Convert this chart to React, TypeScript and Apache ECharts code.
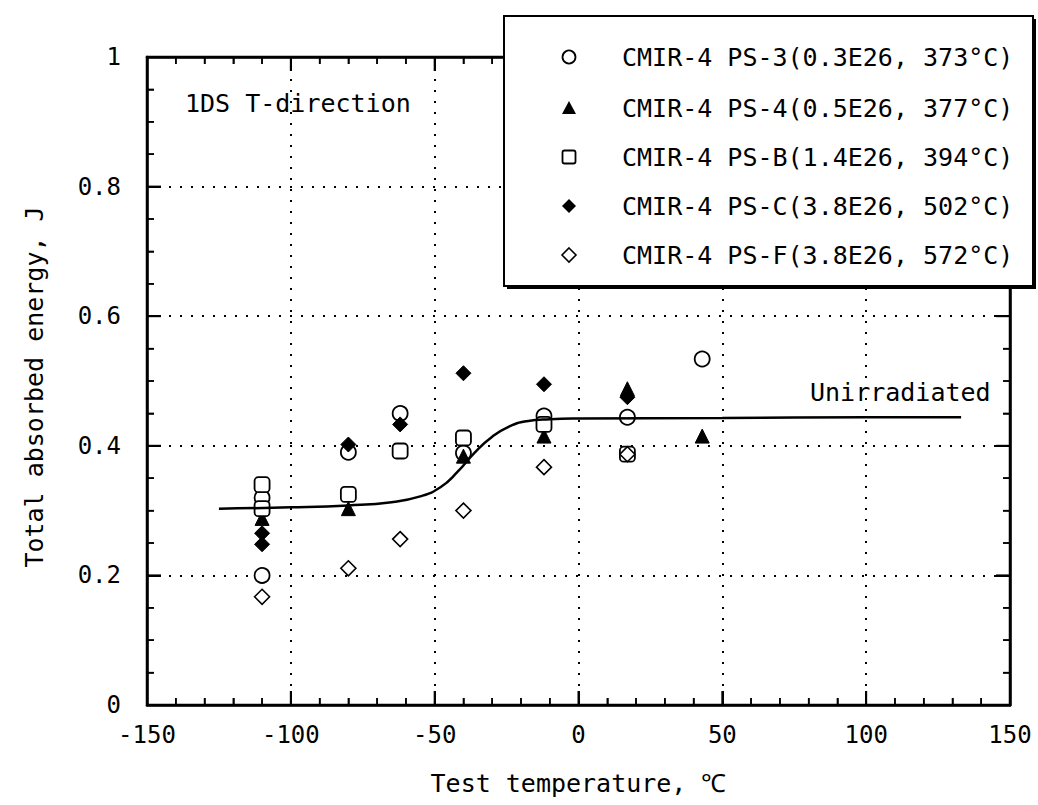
import React, { useEffect, useRef } from "react";
import * as echarts from "echarts";

// ---- data ----
const ps3: [number, number][] = [
  [-110, 0.32], [-110, 0.2], [-80, 0.39], [-62, 0.45], [-40, 0.389], [-12, 0.446], [17, 0.444], [43, 0.534],
];
const ps4: [number, number][] = [
  [-110, 0.288], [-80, 0.303], [-40, 0.384], [-12, 0.415], [17, 0.488], [43, 0.415],
];
const psB: [number, number][] = [
  [-110, 0.34], [-110, 0.303], [-80, 0.325], [-62, 0.392], [-40, 0.412], [-12, 0.433], [17, 0.387],
];
const psC: [number, number][] = [
  [-110, 0.265], [-110, 0.248], [-80, 0.402], [-62, 0.433], [-40, 0.512], [-12, 0.495], [17, 0.475],
];
const psF: [number, number][] = [
  [-110, 0.167], [-80, 0.211], [-62, 0.256], [-40, 0.3], [-12, 0.367], [17, 0.387],
];
const unirradiated: [number, number][] = [
  [-125, 0.303], [-100, 0.305], [-80, 0.308], [-65, 0.313], [-55, 0.322], [-48, 0.336], [-42, 0.36],
  [-36, 0.39], [-30, 0.414], [-24, 0.43], [-18, 0.438], [-10, 0.441], [0, 0.442], [50, 0.443],
  [100, 0.444], [133, 0.444],
];
const seriesNames = [
  "CMIR-4 PS-3(0.3E26, 373°C)",
  "CMIR-4 PS-4(0.5E26, 377°C)",
  "CMIR-4 PS-B(1.4E26, 394°C)",
  "CMIR-4 PS-C(3.8E26, 502°C)",
  "CMIR-4 PS-F(3.8E26, 572°C)",
];
// tick positions (major every 50 / 0.2, minor every 10 / 0.05)
const xTickValues = [
  -150, -140, -130, -120, -110, -100, -90, -80, -70, -60, -50, -40, -30, -20, -10, 0,
  10, 20, 30, 40, 50, 60, 70, 80, 90, 100, 110, 120, 130, 140, 150,
];
const yTickValues = [
  0, 0.05, 0.1, 0.15, 0.2, 0.25, 0.3, 0.35, 0.4, 0.45, 0.5, 0.55, 0.6, 0.65, 0.7, 0.75, 0.8, 0.85, 0.9, 0.95, 1,
];
const xTitle = "Test temperature, ℃";
const yTitle = "Total absorbed energy, J";
const noteText = "1DS T-direction";
const curveLabel = "Unirradiated";

const FONT = "'DejaVu Sans Mono', monospace";

const isMultiple = (v: number, step: number) => Math.abs(v / step - Math.round(v / step)) < 1e-6;

export default function App() {
  const ref = useRef<HTMLDivElement>(null);
  useEffect(() => {
    if (!ref.current) return;
    const chart = echarts.init(ref.current, null, { renderer: "svg" });

    const line = { show: true, onZero: false, lineStyle: { color: "#000", width: 2.5 } };
    const tick = { show: true, inside: true, length: 14, lineStyle: { color: "#000", width: 2 } };
    const minorX = { show: true, splitNumber: 5, length: 7, lineStyle: { color: "#000", width: 1.5 } };
    const minorY = { show: true, splitNumber: 4, length: 7, lineStyle: { color: "#000", width: 1.5 } };
    const split = { show: true, lineStyle: { color: "#000", type: [2, 9], width: 2 } };
    const labelStyle = { color: "#000", fontSize: 24, fontFamily: FONT };

    const open = { color: "#fff", borderColor: "#000", borderWidth: 1.8, opacity: 1 };
    const filled = { color: "#000", borderColor: "#000", borderWidth: 1, opacity: 1 };

    // legend layout
    const legX = 569;
    const legTextX = 622;
    const legRows = [57, 108, 157, 206, 255];
    const symbolGraphics: any[] = [
      { type: "circle", shape: { cx: legX, cy: legRows[0], r: 6.5 }, style: { fill: "#fff", stroke: "#000", lineWidth: 1.8 } },
      { type: "polygon", shape: { points: [[legX, legRows[1] - 7], [legX - 7, legRows[1] + 6], [legX + 7, legRows[1] + 6]] }, style: { fill: "#000" } },
      { type: "rect", shape: { x: legX - 6.5, y: legRows[2] - 6.5, width: 13, height: 13, r: 2 }, style: { fill: "#fff", stroke: "#000", lineWidth: 1.8 } },
      { type: "polygon", shape: { points: [[legX, legRows[3] - 7], [legX + 7, legRows[3]], [legX, legRows[3] + 7], [legX - 7, legRows[3]]] }, style: { fill: "#000" } },
      { type: "polygon", shape: { points: [[legX, legRows[4] - 7], [legX + 7, legRows[4]], [legX, legRows[4] + 7], [legX - 7, legRows[4]]] }, style: { fill: "#fff", stroke: "#000", lineWidth: 1.6 } },
    ];
    const legendTexts = seriesNames.map((n, i) => ({
      type: "text",
      x: legTextX,
      y: legRows[i],
      style: { text: n, fill: "#000", font: `25px ${FONT}`, verticalAlign: "middle", align: "left" },
    }));

    const xTickSeries = {
      type: "custom", silent: true, clip: false, z: 5,
      data: xTickValues.map((v) => [v, 0]),
      encode: { x: 0, y: 1 },
      renderItem: (params: any, api: any) => {
        const v = api.value(0);
        const cs = params.coordSys;
        const px = api.coord([v, 0])[0];
        const major = isMultiple(v, 50);
        const len = major ? 14 : 7;
        const st = { stroke: "#000", lineWidth: major ? 2 : 1.5 };
        const bottom = cs.y + cs.height;
        return {
          type: "group",
          children: [
            { type: "line", shape: { x1: px, y1: bottom, x2: px, y2: bottom - len }, style: st },
            { type: "line", shape: { x1: px, y1: cs.y, x2: px, y2: cs.y + len }, style: st },
          ],
        };
      },
    };
    const yTickSeries = {
      type: "custom", silent: true, clip: false, z: 5,
      data: yTickValues.map((v) => [-150, v]),
      encode: { x: 0, y: 1 },
      renderItem: (params: any, api: any) => {
        const v = api.value(1);
        const cs = params.coordSys;
        const py = api.coord([-150, v])[1];
        const major = isMultiple(v, 0.2);
        const len = major ? 14 : 7;
        const st = { stroke: "#000", lineWidth: major ? 2 : 1.5 };
        const right = cs.x + cs.width;
        return {
          type: "group",
          children: [
            { type: "line", shape: { x1: cs.x, y1: py, x2: cs.x + len, y2: py }, style: st },
            { type: "line", shape: { x1: right, y1: py, x2: right - len, y2: py }, style: st },
          ],
        };
      },
    };

    chart.setOption({
      animation: false,
      grid: { left: 147, top: 57, width: 863, height: 648, show: true, borderColor: "#000", borderWidth: 2.5, backgroundColor: "transparent" },
      xAxis: [
        {
          type: "value", min: -150, max: 150, interval: 50, position: "bottom",
          axisLine: line, axisTick: tick, minorTick: minorX,
          axisLabel: { ...labelStyle, margin: 18 },
          splitLine: split,
          name: xTitle, nameLocation: "middle", nameGap: 66,
          nameTextStyle: { color: "#000", fontSize: 25, fontFamily: FONT },
        },
        {
          type: "value", min: -150, max: 150, interval: 50, position: "top",
          axisLine: line, axisTick: tick, minorTick: minorX,
          axisLabel: { show: false }, splitLine: { show: false },
        },
      ],
      yAxis: [
        {
          type: "value", min: 0, max: 1, interval: 0.2, position: "left",
          axisLine: line, axisTick: tick, minorTick: minorY,
          axisLabel: { ...labelStyle, margin: 26 },
          splitLine: split,
          name: yTitle, nameLocation: "middle", nameGap: 100,
          nameTextStyle: { color: "#000", fontSize: 25, fontFamily: FONT, padding: [0, 12, 0, 0] },
        },
        {
          type: "value", min: 0, max: 1, interval: 0.2, position: "right",
          axisLine: line, axisTick: tick, minorTick: minorY,
          axisLabel: { show: false }, splitLine: { show: false },
        },
      ],
      series: [
        xTickSeries,
        yTickSeries,
        {
          name: "Unirradiated", type: "line", data: unirradiated, smooth: 0.5,
          showSymbol: false, symbol: "none", lineStyle: { color: "#000", width: 2.5 },
        },
        { name: seriesNames[0], type: "scatter", data: ps3, symbol: "circle", symbolSize: 15, itemStyle: open },
        { name: seriesNames[1], type: "scatter", data: ps4, symbol: "triangle", symbolSize: 14, itemStyle: filled },
        { name: seriesNames[2], type: "scatter", data: psB, symbol: "roundRect", symbolSize: 15, itemStyle: open },
        { name: seriesNames[3], type: "scatter", data: psC, symbol: "diamond", symbolSize: 15, itemStyle: filled },
        { name: seriesNames[4], type: "scatter", data: psF, symbol: "diamond", symbolSize: 15, itemStyle: { color: "rgba(255,255,255,0)", borderColor: "#000", borderWidth: 1.6, opacity: 1 } },
      ],
      graphic: [
        { type: "text", x: 185, y: 103, style: { text: noteText, fill: "#000", font: `25px ${FONT}`, verticalAlign: "middle" } },
        { type: "text", x: 810, y: 392, style: { text: curveLabel, fill: "#000", font: `25px ${FONT}`, verticalAlign: "middle" } },
        { type: "rect", shape: { x: 507, y: 19, width: 529, height: 270 }, style: { fill: "#000" }, z: 10 },
        { type: "rect", shape: { x: 504, y: 16, width: 529, height: 270 }, style: { fill: "#fff", stroke: "#000", lineWidth: 2 }, z: 11 },
        ...symbolGraphics.map((g) => ({ ...g, z: 12 })),
        ...legendTexts.map((g) => ({ ...g, z: 12 })),
      ],
    });
    return () => chart.dispose();
  }, []);
  return <div ref={ref} style={{ position: "fixed", left: 0, top: 0, width: 1038, height: 805, background: "#fff" }} />;
}
